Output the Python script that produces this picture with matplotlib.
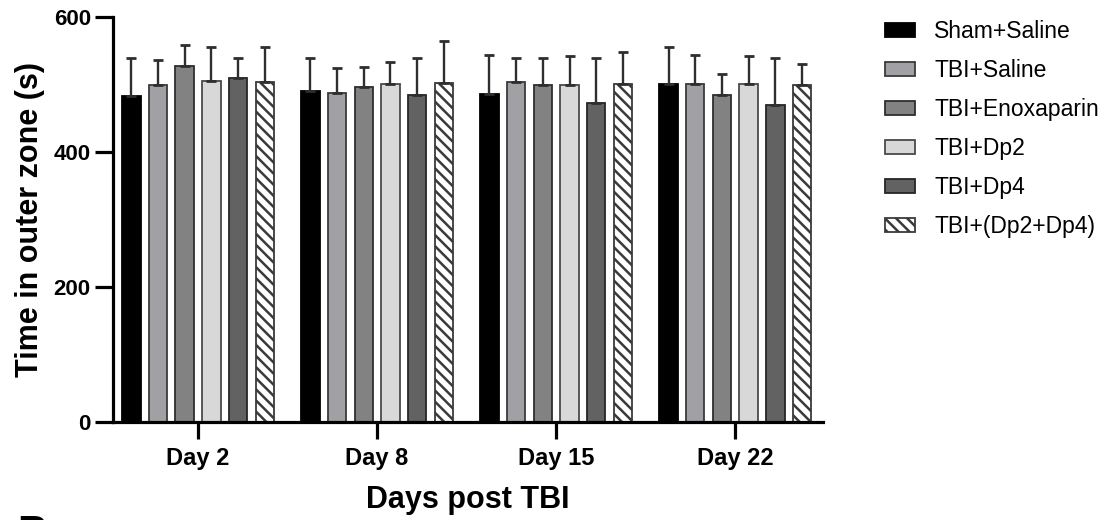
import matplotlib
matplotlib.use("Agg")
import matplotlib.pyplot as plt
import numpy as np

plt.rcParams['font.family'] = ['Liberation Sans', 'DejaVu Sans']
plt.rcParams['hatch.linewidth'] = 1.8

days = ["Day 2", "Day 8", "Day 15", "Day 22"]
groups = ["Sham+Saline", "TBI+Saline", "TBI+Enoxaparin", "TBI+Dp2", "TBI+Dp4", "TBI+(Dp2+Dp4)"]

sham_saline = [483, 490, 486, 501]
tbi_saline = [499, 487, 503, 501]
tbi_enox = [527, 496, 499, 484]
tbi_dp2 = [505, 501, 500, 501]
tbi_dp4 = [509, 485, 473, 470]
tbi_combo = [504, 502, 501, 499]

sham_saline_err = [57, 50, 57, 54]
tbi_saline_err = [37, 37, 37, 42]
tbi_enox_err = [31, 30, 41, 32]
tbi_dp2_err = [50, 32, 42, 41]
tbi_dp4_err = [30, 54, 66, 70]
tbi_combo_err = [52, 63, 47, 31]

means = [sham_saline, tbi_saline, tbi_enox, tbi_dp2, tbi_dp4, tbi_combo]
errs = [sham_saline_err, tbi_saline_err, tbi_enox_err, tbi_dp2_err, tbi_dp4_err, tbi_combo_err]

fills = ["#000000", "#a1a1a5", "#828282", "#d8d8d8", "#626262", "#ffffff"]
edges = ["#000000", "#3a3a3a", "#2e2e2e", "#4a4a4a", "#262626", "#3a3a3a"]
hatches = [None, None, None, None, None, "\\\\\\"]

fig = plt.figure(figsize=(11.13, 5.2), dpi=100)
ax = fig.add_axes([113/1113, 1-422/520, (823-113)/1113, (422-17)/520])

x = np.arange(len(days))
pitch = 0.149
width = 0.103
handles = []
for i, (m, e) in enumerate(zip(means, errs)):
    pos = x + (i - 2.5) * pitch
    b = ax.bar(pos, m, width, color=fills[i], edgecolor=edges[i], linewidth=1.3,
               hatch=hatches[i], label=groups[i], zorder=2)
    handles.append(b)
    ax.errorbar(pos, m, yerr=[np.zeros(len(e)), e], fmt='none', ecolor="#2e2e2e",
                elinewidth=1.7, capsize=3.5, capthick=2.0, zorder=3)

ax.set_xlim(-0.475, 3.49)
ax.set_ylim(0, 600)
ax.set_yticks([0, 200, 400, 600])
ax.set_xticks(x)
ax.set_xticklabels(days, fontsize=17, fontweight='bold')
for lab in ax.get_yticklabels():
    lab.set_fontsize(16)
    lab.set_fontweight('bold')

for s in ['top', 'right']:
    ax.spines[s].set_visible(False)
for s in ['left', 'bottom']:
    ax.spines[s].set_linewidth(2.3)
ax.tick_params(axis='y', length=13, width=2.3, pad=3)
ax.tick_params(axis='x', length=12, width=2.3, pad=6)

ax.set_ylabel("Time in outer zone (s)", fontsize=22, fontweight='bold', labelpad=6)
ax.set_xlabel("Days post TBI", fontsize=22, fontweight='bold', labelpad=11)

leg = fig.legend(handles=handles, labels=groups, loc='upper left',
                 bbox_to_anchor=(885/1113, 1-20/520), frameon=False, fontsize=16.5,
                 handlelength=1.3, handleheight=0.6, handletextpad=0.85,
                 labelspacing=0.7, borderpad=0, borderaxespad=0)

fig.text(17/1113, 1-514/520, "B", fontsize=30, fontweight='bold', ha='left', va='top')

fig.savefig("out.png", dpi=100)
